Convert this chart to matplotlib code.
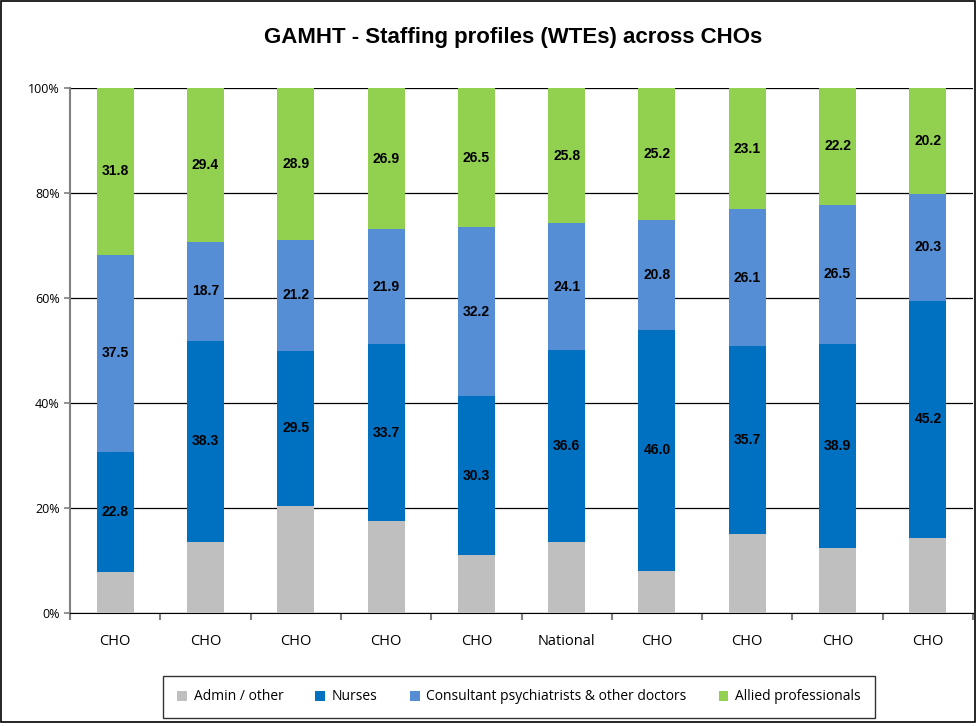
import matplotlib.pyplot as plt
import numpy as np
from matplotlib.ticker import FixedLocator, PercentFormatter

# Staffing mix (% of WTEs) per area
categories = ["CHO", "CHO", "CHO", "CHO", "CHO", "National", "CHO", "CHO", "CHO", "CHO"]
admin = [7.9, 13.6, 20.4, 17.5, 11.0, 13.5, 8.0, 15.1, 12.4, 14.3]
nurses = [22.8, 38.3, 29.5, 33.7, 30.3, 36.6, 46.0, 35.7, 38.9, 45.2]
doctors = [37.5, 18.7, 21.2, 21.9, 32.2, 24.1, 20.8, 26.1, 26.5, 20.3]
allied = [31.8, 29.4, 28.9, 26.9, 26.5, 25.8, 25.2, 23.1, 22.2, 20.2]

series = [
    ("Admin / other", admin, "#bfbfbf", False),
    ("Nurses", nurses, "#0070c0", True),
    ("Consultant psychiatrists & other doctors", doctors, "#558ed5", True),
    ("Allied professionals", allied, "#92d050", True),
]

fig = plt.figure(figsize=(9.77, 7.26), dpi=100)
ax = fig.add_axes([70 / 977, 1 - 613 / 726, 903 / 977, 525 / 726])

x = np.arange(len(categories))
bottom = np.zeros(len(categories))
for name, vals, colour, show in series:
    vals = np.array(vals)
    ax.bar(x, vals, width=0.41, bottom=bottom, color=colour, label=name, zorder=3)
    if show:
        for xi, b, v in zip(x, bottom, vals):
            ax.text(xi, b + v / 2, f"{v:.1f}", ha="center", va="center",
                    fontsize=10, fontweight="bold", family="Liberation Sans", zorder=4)
    bottom += vals

ax.set_xlim(-0.5, len(categories) - 0.5)
ax.set_ylim(0, 100)
ax.yaxis.set_major_locator(FixedLocator([0, 20, 40, 60, 80, 100]))
ax.yaxis.set_major_formatter(PercentFormatter(decimals=0))
ax.grid(axis="y", color="black", linewidth=0.9, zorder=0)

ax.set_xticks(x)
ax.set_xticklabels(categories, fontsize=10.5, family="Open Sans")
ax.tick_params(axis="x", which="major", length=0, pad=15)
ax.set_xticks(np.arange(len(categories) + 1) - 0.5, minor=True)
ax.tick_params(axis="x", which="minor", length=5, color="#808080", width=1.5)
ax.tick_params(axis="y", labelsize=9, length=4, color="#808080", width=1.2)
for lbl in ax.get_yticklabels():
    lbl.set_family("Open Sans")

for side in ["top", "right"]:
    ax.spines[side].set_visible(False)
ax.spines["left"].set_color("#808080")
ax.spines["left"].set_linewidth(1.5)
ax.spines["bottom"].set_color("black")

fig.text(513 / 977, 1 - 38 / 726, "GAMHT - Staffing profiles (WTEs) across CHOs",
         ha="center", va="center", fontsize=16, fontweight="bold", family="Liberation Sans")

leg = fig.legend(loc="center", bbox_to_anchor=(519 / 977, 1 - 697 / 726), ncol=4,
                 frameon=True, fancybox=False, edgecolor="black",
                 handlelength=0.7, handleheight=0.7, handletextpad=0.5, columnspacing=2.3,
                 borderpad=1.0, prop={"family": "Open Sans", "size": 10})
leg.get_frame().set_linewidth(1.0)

# outer frame round the figure
fig.patches.append(plt.Rectangle((0.001, 0.006), 0.997, 0.992, transform=fig.transFigure,
                                 fill=False, edgecolor="black", linewidth=1.2))

fig.savefig("out.png", dpi=100)
